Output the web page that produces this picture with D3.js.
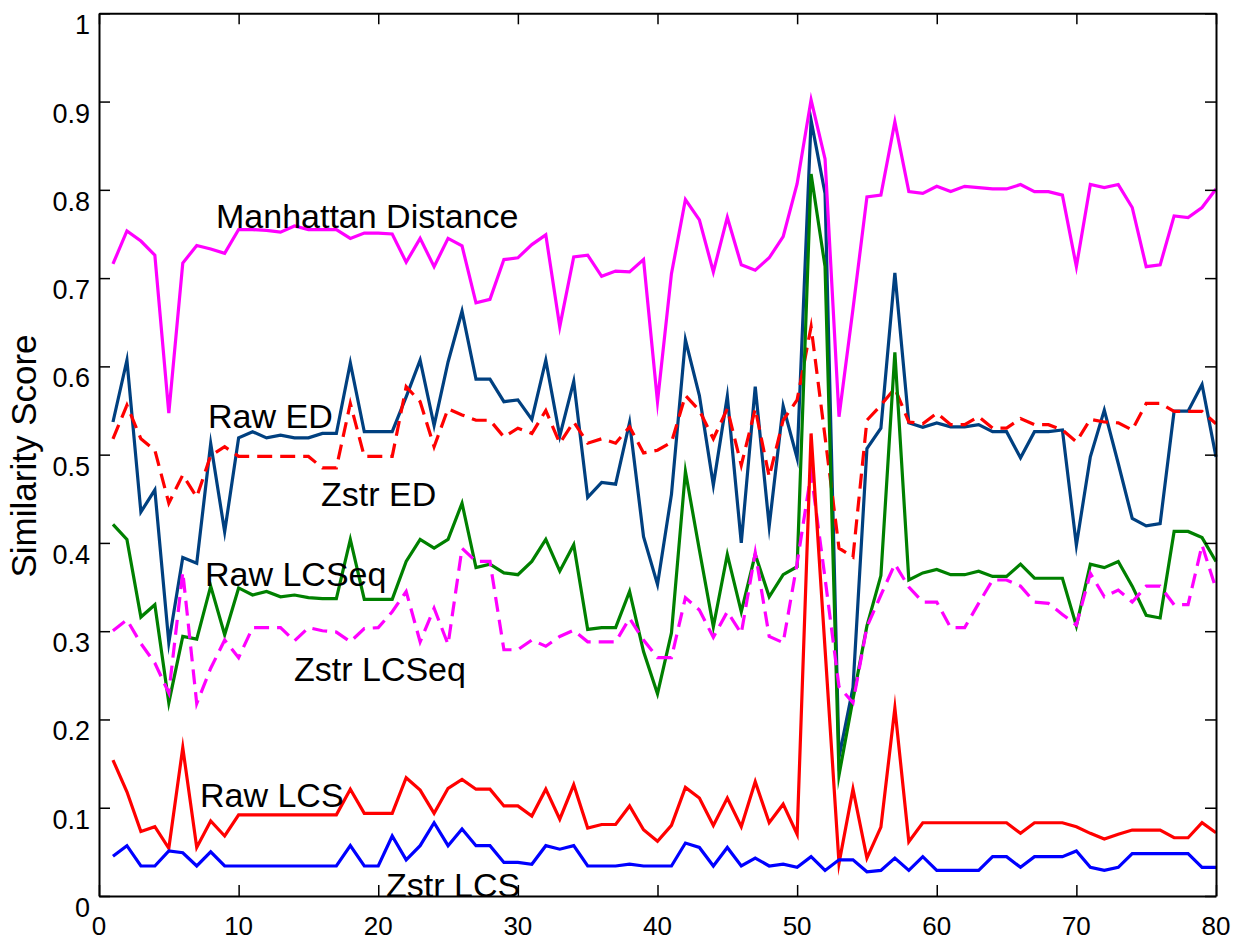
<!DOCTYPE html>
<html>
<head>
<meta charset="utf-8">
<script src="https://cdn.jsdelivr.net/npm/d3@7"></script>
<style>
  html, body { margin: 0; padding: 0; background: #ffffff; }
  svg { display: block; }
  text { font-family: "Liberation Sans", Arial, Helvetica, sans-serif; fill: #000; }
</style>
</head>
<body>
<svg id="chart" width="1237" height="941"></svg>
<script>
// Similarity scores for 80 query sequences, one array per measure
const manhattan = [0.716,0.7535,0.742,0.726,0.547,0.717,0.737,0.733,0.728,0.755,
  0.755,0.754,0.752,0.759,0.755,0.755,0.755,0.745,0.751,0.751,
  0.750,0.718,0.745,0.713,0.745,0.7365,0.672,0.676,0.721,0.723,
  0.738,0.749,0.645,0.724,0.726,0.702,0.708,0.707,0.721,0.560,
  0.705,0.789,0.766,0.707,0.769,0.715,0.709,0.723,0.747,0.807,
  0.902,0.835,0.543,0.665,0.792,0.794,0.877,0.798,0.796,0.804,
  0.798,0.804,0.8025,0.801,0.801,0.806,0.798,0.798,0.794,0.713,
  0.806,0.8025,0.806,0.780,0.713,0.715,0.7705,0.7686,0.780,0.801];

const rawED = [0.537,0.607,0.435,0.46,0.287,0.3835,0.377,0.5126,0.4126,0.519,
  0.526,0.519,0.522,0.519,0.519,0.524,0.524,0.604,0.526,0.526,
  0.526,0.5655,0.607,0.533,0.605,0.6625,0.5855,0.5855,0.56,0.562,
  0.540,0.607,0.521,0.583,0.4515,0.4685,0.4666,0.5364,0.407,0.353,
  0.455,0.63,0.567,0.4655,0.566,0.400,0.577,0.419,0.555,0.496,
  0.879,0.796,0.157,0.236,0.507,0.530,0.706,0.536,0.531,0.536,
  0.5315,0.5315,0.534,0.526,0.526,0.4964,0.526,0.526,0.528,0.3975,
  0.4975,0.5504,0.49,0.4277,0.4194,0.422,0.5493,0.5493,0.5795,0.4975];

const zstrED = [0.518,0.556,0.518,0.505,0.445,0.477,0.452,0.499,0.509,0.498,
  0.498,0.498,0.498,0.498,0.498,0.485,0.485,0.558,0.498,0.498,
  0.498,0.577,0.56,0.509,0.552,0.545,0.539,0.539,0.520,0.530,
  0.524,0.550,0.513,0.537,0.513,0.518,0.513,0.5315,0.502,0.505,
  0.514,0.567,0.550,0.518,0.552,0.488,0.552,0.475,0.539,0.562,
  0.645,0.52,0.394,0.384,0.539,0.556,0.575,0.537,0.535,0.547,
  0.534,0.534,0.543,0.530,0.530,0.541,0.534,0.534,0.528,0.5145,
  0.540,0.537,0.536,0.528,0.558,0.558,0.549,0.549,0.549,0.535];

const rawLCSeq = [0.421,0.404,0.316,0.330,0.219,0.294,0.291,0.351,0.296,0.349,
  0.341,0.345,0.339,0.341,0.338,0.337,0.337,0.404,0.336,0.336,
  0.336,0.379,0.404,0.394,0.404,0.445,0.372,0.376,0.366,0.364,
  0.379,0.404,0.368,0.398,0.302,0.304,0.304,0.345,0.277,0.229,
  0.298,0.481,0.392,0.305,0.387,0.322,0.387,0.339,0.364,0.373,
  0.818,0.713,0.137,0.223,0.306,0.363,0.616,0.358,0.366,0.370,
  0.364,0.364,0.368,0.362,0.362,0.376,0.360,0.360,0.360,0.306,
  0.376,0.372,0.379,0.351,0.318,0.315,0.413,0.413,0.406,0.379];

const zstrLCSeq = [0.3005,0.313,0.286,0.264,0.230,0.367,0.218,0.258,0.290,0.270,
  0.304,0.304,0.304,0.289,0.304,0.3005,0.299,0.288,0.303,0.304,
  0.322,0.345,0.288,0.326,0.285,0.394,0.379,0.379,0.279,0.279,
  0.290,0.283,0.294,0.301,0.288,0.288,0.288,0.3145,0.290,0.270,
  0.270,0.338,0.324,0.293,0.322,0.2975,0.389,0.294,0.287,0.377,
  0.479,0.36,0.237,0.219,0.305,0.341,0.376,0.350,0.333,0.333,
  0.304,0.304,0.3315,0.358,0.358,0.351,0.333,0.3315,0.319,0.307,
  0.3655,0.339,0.3466,0.333,0.351,0.351,0.330,0.330,0.3975,0.348];

const rawLCS = [0.154,0.118,0.073,0.0785,0.054,0.168,0.055,0.085,0.068,0.092,
  0.092,0.092,0.092,0.092,0.092,0.092,0.092,0.121,0.0936,0.0936,
  0.0936,0.134,0.120,0.0936,0.122,0.132,0.121,0.121,0.102,0.102,
  0.0906,0.121,0.087,0.126,0.077,0.081,0.081,0.102,0.075,0.062,
  0.080,0.123,0.111,0.080,0.111,0.0785,0.1295,0.083,0.104,0.070,
  0.524,0.28,0.037,0.121,0.043,0.078,0.213,0.0615,0.083,0.083,
  0.083,0.083,0.083,0.083,0.083,0.071,0.083,0.083,0.083,0.0785,
  0.071,0.0645,0.070,0.0747,0.0747,0.0747,0.066,0.066,0.083,0.0717];

const zstrLCS = [0.045,0.057,0.034,0.034,0.051,0.049,0.034,0.050,0.034,0.034,
  0.034,0.034,0.034,0.034,0.034,0.034,0.034,0.057,0.034,0.034,
  0.068,0.041,0.057,0.083,0.057,0.076,0.057,0.057,0.038,0.038,
  0.036,0.057,0.053,0.057,0.034,0.034,0.034,0.036,0.034,0.034,
  0.034,0.060,0.055,0.034,0.055,0.034,0.043,0.034,0.036,0.0325,
  0.0445,0.029,0.041,0.041,0.0275,0.029,0.043,0.029,0.0445,0.029,
  0.029,0.029,0.029,0.0445,0.0445,0.0325,0.0445,0.0445,0.0445,0.051,
  0.0325,0.029,0.0325,0.048,0.048,0.048,0.048,0.048,0.0325,0.0325];

const xTicks = [0, 10, 20, 30, 40, 50, 60, 70, 80];
const yTicks = [0, 0.1, 0.2, 0.3, 0.4, 0.5, 0.6, 0.7, 0.8, 0.9, 1];
const yTickLabels = ["0", "0.1", "0.2", "0.3", "0.4", "0.5", "0.6", "0.7", "0.8", "0.9", "1"];

// Series drawing table (order = painting order)
const series = [
  { name: "Raw ED",             values: rawED,     color: "#004080", dash: null },
  { name: "Zstr ED",            values: zstrED,    color: "#ff0000", dash: "15,8" },
  { name: "Raw LCSeq",          values: rawLCSeq,  color: "#008000", dash: null },
  { name: "Zstr LCSeq",         values: zstrLCSeq, color: "#ff00ff", dash: "15,8" },
  { name: "Raw LCS",            values: rawLCS,    color: "#ff0000", dash: null },
  { name: "Zstr LCS",           values: zstrLCS,   color: "#0000ff", dash: null },
  { name: "Manhattan Distance", values: manhattan, color: "#ff00ff", dash: null }
];

// Inline annotations naming each curve
const labels = [
  { text: "Manhattan Distance", x: 216, y: 228 },
  { text: "Raw ED",             x: 208, y: 428 },
  { text: "Zstr ED",            x: 321, y: 506 },
  { text: "Raw LCSeq",          x: 205, y: 586 },
  { text: "Zstr LCSeq",         x: 294, y: 681 },
  { text: "Raw LCS",            x: 200, y: 807 },
  { text: "Zstr LCS",           x: 386, y: 897 }
];

const svg = d3.select("#chart");
const plotLeft = 99, plotRight = 1216, plotTop = 13.3, plotBottom = 896;

const x = d3.scaleLinear().domain([0, 80]).range([plotLeft, plotRight]);
const y = d3.scaleLinear().domain([0, 1]).range([plotBottom, plotTop]);

// curves
const line = d3.line()
  .x((d, i) => x(i + 1))
  .y(d => y(d));

const plot = svg.append("g");
series.forEach(s => {
  plot.append("path")
    .datum(s.values)
    .attr("d", line)
    .attr("fill", "none")
    .attr("stroke", s.color)
    .attr("stroke-width", 3.2)
    .attr("stroke-linejoin", "miter")
    .attr("stroke-miterlimit", 10)
    .attr("stroke-dasharray", s.dash);
});

// axes box with inward ticks on all four sides
const tickLen = 11;
const axisColor = "#000";
const bottomAxis = d3.axisBottom(x).tickValues(xTicks).tickSizeInner(-tickLen).tickSizeOuter(0).tickFormat("");
const topAxis = d3.axisTop(x).tickValues(xTicks).tickSizeInner(-tickLen).tickSizeOuter(0).tickFormat("");
const leftAxis = d3.axisLeft(y).tickValues(yTicks).tickSizeInner(-tickLen).tickSizeOuter(0).tickFormat("");
const rightAxis = d3.axisRight(y).tickValues(yTicks).tickSizeInner(-tickLen).tickSizeOuter(0).tickFormat("");

function styleAxis(g) {
  g.selectAll(".domain").attr("stroke", axisColor).attr("stroke-width", 2);
  g.selectAll(".tick line").attr("stroke", axisColor).attr("stroke-width", 1.5);
}
svg.append("g").attr("transform", `translate(0,${plotBottom})`).call(bottomAxis).call(styleAxis);
svg.append("g").attr("transform", `translate(0,${plotTop})`).call(topAxis).call(styleAxis);
svg.append("g").attr("transform", `translate(${plotLeft},0)`).call(leftAxis).call(styleAxis);
svg.append("g").attr("transform", `translate(${plotRight},0)`).call(rightAxis).call(styleAxis);

// tick labels
svg.append("g").selectAll("text")
  .data(yTicks)
  .join("text")
  .attr("x", 90)
  .attr("y", d => y(d) + 21)
  .attr("text-anchor", "end")
  .attr("font-size", 27)
  .text((d, i) => yTickLabels[i]);

svg.append("g").selectAll("text")
  .data(xTicks)
  .join("text")
  .attr("x", d => x(d))
  .attr("y", 935)
  .attr("text-anchor", "middle")
  .attr("font-size", 26)
  .text(d => d);

// y axis title
svg.append("text")
  .attr("transform", "translate(36,456) rotate(-90)")
  .attr("text-anchor", "middle")
  .attr("font-size", 35)
  .text("Similarity Score");

// curve annotations
svg.append("g").selectAll("text")
  .data(labels)
  .join("text")
  .attr("x", d => d.x)
  .attr("y", d => d.y)
  .attr("font-size", 34)
  .text(d => d.text);
</script>
</body>
</html>
